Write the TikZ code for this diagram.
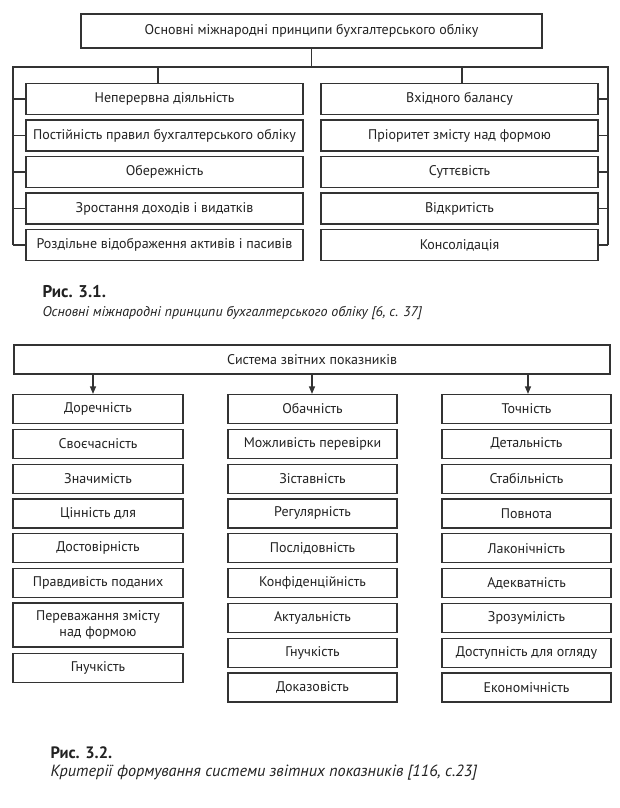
\documentclass[tikz,border=0pt]{standalone}
\usepackage{fontspec}
\setmainfont{PT Sans}
\usetikzlibrary{arrows.meta}
\definecolor{ln}{HTML}{333333}
\definecolor{tx}{HTML}{222222}
\begin{document}
\begin{tikzpicture}[x=1pt,y=-1pt,
  every node/.style={text=tx, font=\fontsize{14}{15.5}\selectfont},
  bx/.style={draw=ln, line width=1.2pt, inner sep=0pt, minimum height=31pt, align=center},
  lbox/.style={bx, minimum width=277pt},
  sbox/.style={bx, minimum width=169pt, minimum height=29pt},
  conn/.style={draw=ln, line width=1.2pt},
  arr/.style={conn, -{Triangle[length=7.5pt,width=6pt]}},
  capb/.style={anchor=west, font=\fontsize{17}{19}\selectfont\bfseries},
  capi/.style={anchor=west, font=\fontsize{14}{16}\selectfont\itshape}]
\useasboundingbox[fill=white] (0,0) rectangle (619,808);
% ---------- Diagram 1 ----------
\node[bx, minimum width=461pt, minimum height=34pt] (top) at (311.5,31) {Основні міжнародні принципи бухгалтерського обліку};
\coordinate (fl) at (13,67);
\coordinate (fr) at (608,67);
\coordinate (dl) at (158,67);
\coordinate (dr) at (462,67);
\node[lbox] (L1) at (164.5,99) {Неперервна діяльність};
\node[lbox] (L2) at (164.5,135.5) {Постійність правил бухгалтерського обліку};
\node[lbox] (L3) at (164.5,172) {Обережність};
\node[lbox] (L4) at (164.5,208.5) {Зростання доходів і видатків};
\node[lbox] (L5) at (164.5,245) {Роздільне відображення активів і пасивів};
\node[lbox] (R1) at (459.5,99) {Вхідного балансу};
\node[lbox] (R2) at (459.5,135.5) {Пріоритет змісту над формою};
\node[lbox] (R3) at (459.5,172) {Суттєвість};
\node[lbox] (R4) at (459.5,208.5) {Відкритість};
\node[lbox] (R5) at (459.5,245) {Консолідація};
\draw[conn] (top.south) -- (top.south |- fl);
\draw[conn] (fl |- L5) -- (fl) -- (fr) -- (fr |- R5);
\draw[conn] (dl) -- (dl |- L1.north);
\draw[conn] (dr) -- (dr |- R1.north);
\foreach \i in {1,...,5}{
  \draw[conn] (fl |- L\i) -- (L\i.west);
  \draw[conn] (fr |- R\i) -- (R\i.east);
}
\node[capb] (c1) at (39,292) {Рис. 3.1.};
\node[capi] (c1i) at (39,313) {Основні міжнародні принципи бухгалтерського обліку [6, с. 37]};
% ---------- Diagram 2 ----------
\node[bx, minimum width=596pt, minimum height=29pt] (S) at (312,359.5) {Система звітних показників};
\coordinate (a1) at (93,374);
\coordinate (a2) at (312,374);
\coordinate (a3) at (528,374);
% left column
\node[sbox, minimum width=170pt] (A1) at (98,409) {Доречність};
\node[sbox, minimum width=170pt] (A2) at (98,443.8) {Своєчасність};
\node[sbox, minimum width=170pt] (A3) at (98,478.6) {Значимість};
\node[sbox, minimum width=170pt] (A4) at (98,513.4) {Цінність для};
\node[sbox, minimum width=170pt] (A5) at (98,548.2) {Достовірність};
\node[sbox, minimum width=170pt] (A6) at (98,583) {Правдивість поданих};
\node[sbox, minimum width=170pt, minimum height=44pt] (A7) at (98,625) {Переважання змісту\\над формою};
\node[sbox, minimum width=170pt] (A8) at (98,668) {Гнучкість};
% middle column
\node[sbox] (B1) at (312.5,409) {Обачність};
\node[sbox] (B2) at (312.5,443.8) {Можливість перевірки};
\node[sbox] (B3) at (312.5,478.6) {Зіставність};
\node[sbox] (B4) at (312.5,513.4) {Регулярність};
\node[sbox] (B5) at (312.5,548.2) {Послідовність};
\node[sbox] (B6) at (312.5,583) {Конфіденційність};
\node[sbox] (B7) at (312.5,617.8) {Актуальність};
\node[sbox] (B8) at (312.5,652.6) {Гнучкість};
\node[sbox] (B9) at (312.5,687.4) {Доказовість};
% right column
\node[sbox] (C1) at (526.5,409) {Точність};
\node[sbox] (C2) at (526.5,443.8) {Детальність};
\node[sbox] (C3) at (526.5,478.6) {Стабільність};
\node[sbox] (C4) at (526.5,513.4) {Повнота};
\node[sbox] (C5) at (526.5,548.2) {Лаконічність};
\node[sbox] (C6) at (526.5,583) {Адекватність};
\node[sbox] (C7) at (526.5,617.8) {Зрозумілість};
\node[sbox] (C8) at (526.5,652.6) {Доступність для огляду};
\node[sbox] (C9) at (526.5,687.4) {Економічність};
\draw[arr] (a1) -- (a1 |- A1.north);
\draw[arr] (a2) -- (a2 |- B1.north);
\draw[arr] (a3) -- (a3 |- C1.north);
\node[capb, font=\fontsize{16.5}{18}\selectfont\bfseries] (c2) at (47,753) {Рис. 3.2.};
\node[capi, font=\fontsize{16.2}{18}\selectfont\itshape] (c2i) at (47,773) {Критерії формування системи звітних показників [116, с.23]};
\end{tikzpicture}
\end{document}
